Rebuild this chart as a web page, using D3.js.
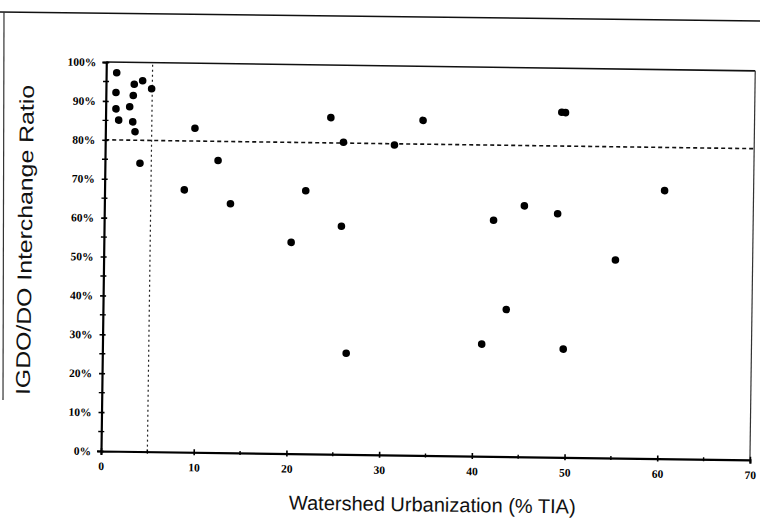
<!DOCTYPE html>
<html>
<head>
<meta charset="utf-8">
<script src="https://cdn.jsdelivr.net/npm/d3@7"></script>
<style>
  html, body { margin: 0; padding: 0; background: #fff; }
  svg { display: block; }
</style>
</head>
<body>
<svg id="chart" width="760" height="523"></svg>
<script>
// ---- data ----
const urbanization = [
  1.14, 3.95, 3.05, 4.93, 1.09, 2.96, 1.11, 2.59, 1.42, 2.94, 3.2, 3.78,
  24.3, 34.25, 25.7, 31.2, 12.2, 21.7, 13.6, 42.0, 25.6, 20.2, 26.3, 40.9,
  8.6, 9.66, 49.2, 49.6, 60.4, 45.3, 48.9, 55.2, 43.5, 49.7
];
const interchangeRatio = [
  97.3, 95.3, 94.4, 93.3, 92.2, 91.5, 88.0, 88.6, 85.1, 84.7, 82.2, 74.1,
  86.5, 86.1, 80.2, 79.7, 75.1, 67.6, 64.0, 60.7, 58.6, 54.3, 26.0, 28.8,
  67.4, 83.3, 88.7, 88.6, 68.9, 64.5, 62.6, 50.9, 37.8, 27.8
];
const xTicks = [0, 10, 20, 30, 40, 50, 60, 70];
const xMinorTicks = [5, 15, 25, 35, 45, 55, 65];
const yTicks = [0, 10, 20, 30, 40, 50, 60, 70, 80, 90, 100];
const yMinorTicks = [5, 15, 25, 35, 45, 55, 65, 75, 85, 95];
const thresholdX = 5;
const thresholdY = 80;
const xTitle = "Watershed Urbanization (% TIA)";
const yTitle = "IGDO/DO Interchange Ratio";

// ---- layout ----
const svg = d3.select("#chart");
const mLeft = 101, mRight = 750, mTop = 62, mBottom = 451;
const x = d3.scaleLinear().domain([0, 70]).range([mLeft, mRight]);
const y = d3.scaleLinear().domain([0, 100]).range([mBottom, mTop]);

// outer page frame of the scan
svg.append("line").attr("x1", 0).attr("y1", 12).attr("x2", 760).attr("y2", 21)
  .attr("stroke", "#111").attr("stroke-width", 1.6);
svg.append("line").attr("x1", 4).attr("y1", 12).attr("x2", 3).attr("y2", 400)
  .attr("stroke", "#333").attr("stroke-width", 1.2);

// the scanned plot is slightly rotated clockwise
const g = svg.append("g").attr("transform", `rotate(0.78, ${mLeft}, ${mBottom})`);

// frame top and right
g.append("line").attr("x1", mLeft).attr("y1", mTop).attr("x2", mRight).attr("y2", mTop)
  .attr("stroke", "#111").attr("stroke-width", 1.6);
g.append("line").attr("x1", mRight).attr("y1", mTop).attr("x2", mRight).attr("y2", mBottom)
  .attr("stroke", "#333").attr("stroke-width", 1.2);

// threshold lines
g.append("line")
  .attr("x1", x(0)).attr("x2", x(70)).attr("y1", y(thresholdY)).attr("y2", y(thresholdY))
  .attr("stroke", "#111").attr("stroke-width", 1.6).attr("stroke-dasharray", "4,3");
g.append("line")
  .attr("x1", x(thresholdX)).attr("x2", x(thresholdX)).attr("y1", y(0)).attr("y2", y(100))
  .attr("stroke", "#222").attr("stroke-width", 1.2).attr("stroke-dasharray", "2,3");

// axes
const tickFont = "'Liberation Serif', 'DejaVu Serif', serif";
const xAxis = g.append("g").attr("transform", `translate(0,${mBottom})`)
  .call(d3.axisBottom(x).tickValues(xTicks).tickSize(4).tickPadding(7).tickFormat(d3.format("d")));
const yAxis = g.append("g").attr("transform", `translate(${mLeft},0)`)
  .call(d3.axisLeft(y).tickValues(yTicks).tickSize(4).tickPadding(6).tickFormat(d => d + "%"));
[xAxis, yAxis].forEach(a => {
  a.select(".domain").attr("stroke", "#000").attr("stroke-width", 2.2);
  a.selectAll(".tick line").attr("stroke", "#000").attr("stroke-width", 1.6);
  a.selectAll("text").attr("fill", "#000").style("font-family", tickFont)
    .style("font-weight", "bold").style("font-size", "11.5px");
});
// crossing ticks (marks on both sides of the axes)
xAxis.selectAll(".tick line").attr("y1", -3).attr("y2", 3);
yAxis.selectAll(".tick line").attr("x1", -3).attr("x2", 3);
g.selectAll(".xminor").data(xMinorTicks).join("line").attr("class", "xminor")
  .attr("x1", d => x(d)).attr("x2", d => x(d)).attr("y1", mBottom - 2).attr("y2", mBottom + 2)
  .attr("stroke", "#000").attr("stroke-width", 1.4);
g.selectAll(".yminor").data(yMinorTicks).join("line").attr("class", "yminor")
  .attr("y1", d => y(d)).attr("y2", d => y(d)).attr("x1", mLeft - 3).attr("x2", mLeft + 3)
  .attr("stroke", "#000").attr("stroke-width", 1.4);

// points
const pts = urbanization.map((u, i) => ({ u, r: interchangeRatio[i] }));
g.selectAll(".pt").data(pts).join("circle").attr("class", "pt")
  .attr("cx", d => x(d.u)).attr("cy", d => y(d.r)).attr("r", 3.8).attr("fill", "#000");

// axis titles
g.append("text")
  .attr("x", 433).attr("y", 507)
  .attr("text-anchor", "middle")
  .style("font-family", "'Liberation Sans', Arial, sans-serif")
  .style("font-size", "20px").attr("fill", "#111")
  .text(xTitle);
g.append("text")
  .attr("transform", "translate(29,241) rotate(-90)")
  .attr("text-anchor", "middle")
  .attr("textLength", 310).attr("lengthAdjust", "spacingAndGlyphs")
  .style("font-family", "'Liberation Sans', Arial, sans-serif")
  .style("font-size", "20px").attr("fill", "#111")
  .text(yTitle);
</script>
</body>
</html>
